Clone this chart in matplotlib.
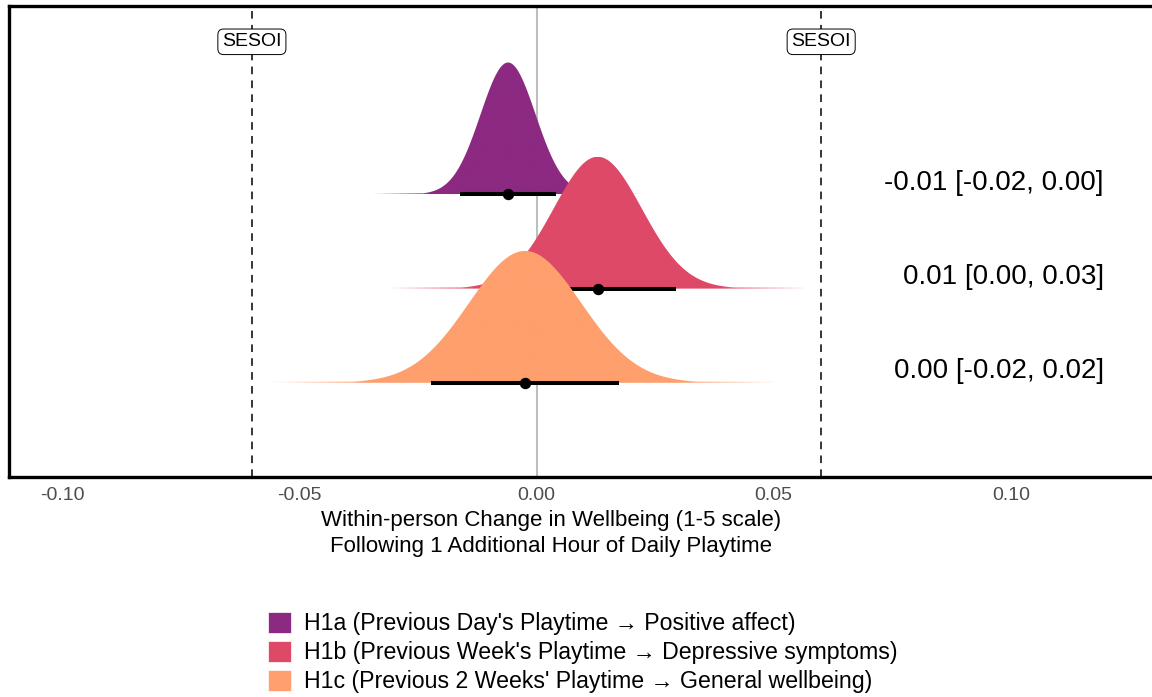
import numpy as np
import matplotlib
matplotlib.use("Agg")
import matplotlib.pyplot as plt
from matplotlib.patches import Patch

plt.rcParams['font.family'] = ['Liberation Sans', 'DejaVu Sans']
plt.rcParams['lines.scale_dashes'] = False

# estimates: posterior mean, 95% interval, spread and range of the slab
hypotheses = ["H1a", "H1b", "H1c"]
legend_labels = [
    "H1a (Previous Day's Playtime \u2192 Positive affect)",
    "H1b (Previous Week's Playtime \u2192 Depressive symptoms)",
    "H1c (Previous 2 Weeks' Playtime \u2192 General wellbeing)",
]
means = [-0.0060, 0.0129, -0.0024]
lowers = [-0.0162, -0.0036, -0.0222]
uppers = [0.0042, 0.0294, 0.0174]
sds = [0.0058, 0.0093, 0.0118]
slab_lo = [-0.0344, -0.0314, -0.0557]
slab_hi = [0.0225, 0.0563, 0.0500]
text_labels = ["-0.01 [-0.02, 0.00]", "0.01 [0.00, 0.03]", "0.00 [-0.02, 0.02]"]
rows = [3, 2, 1]
colors = ["#8C2981", "#DE4968", "#FE9F6D"]
sesoi = 0.06
xticks = [-0.10, -0.05, 0.00, 0.05, 0.10]

W, H = 1152, 697
fig = plt.figure(figsize=(W / 100, H / 100), dpi=100)
ax = fig.add_axes([9 / W, 220 / H, 1.0015, 471 / H])
ax.set_xlim(-0.1112, 0.1320)
ax.set_ylim(0, 5)

ax.axvline(0, color="#BEBEBE", lw=1.5, zorder=1)
for s in (-sesoi, sesoi):
    ax.axvline(s, color="black", lw=1.1, dashes=(5.5, 4.5), zorder=1)
    ax.text(s, 4.62, "SESOI", ha="center", va="center", fontsize=14, zorder=10,
            bbox=dict(boxstyle="round,pad=0.22,rounding_size=0.3", fc="white", ec="black", lw=0.7))

peak = 1.4
for i in range(len(hypotheses)):
    m = means[i]
    sd = sds[i]
    x = np.linspace(slab_lo[i], slab_hi[i], 800)
    dens = np.exp(-0.5 * ((x - m) / sd) ** 2)
    # keep the thin tails at least a hairline tall, like the reference
    top = np.maximum(peak * dens, 0.012)
    base = rows[i]
    poly = ax.fill_between(x, base, base + top, color=colors[i], lw=0, alpha=0, zorder=2 + 2 * i)
    # slab with tails fading out
    z = np.abs(x - m) / sd
    zmax = max(abs(slab_lo[i] - m), abs(slab_hi[i] - m)) / sd
    alpha = np.clip(1 - (z - 2.8) / (zmax - 2.8), 0.05, 1)
    rgba = np.zeros((1, len(x), 4))
    rgba[..., :3] = matplotlib.colors.to_rgb(colors[i])
    rgba[..., 3] = alpha
    im = ax.imshow(rgba, extent=(x[0], x[-1], base, base + peak), aspect="auto",
                   interpolation="bilinear", zorder=2 + 2 * i)
    im.set_clip_path(poly.get_paths()[0], transform=ax.transData)
    ax.plot([lowers[i], uppers[i]], [base, base], color="black", lw=2.9,
            solid_capstyle="butt", zorder=3 + 2 * i)
    ax.plot(m, base, "o", color="black", ms=7.2, zorder=3 + 2 * i)
    ax.text(0.1196, base + 0.12, text_labels[i], ha="right", va="center", fontsize=20)

ax.set_xlim(-0.1112, 0.1320)
ax.set_ylim(0, 5)
ax.set_yticks([])
ax.set_xticks(xticks)
ax.set_xticklabels(["%.2f" % t for t in xticks])
ax.tick_params(axis="x", length=0, pad=7, labelsize=14, labelcolor="#4D4D4D")
for sp in ax.spines.values():
    sp.set_linewidth(2.4)

fig.text(551 / W, 1 - 510 / H,
         "Within-person Change in Wellbeing (1-5 scale)\nFollowing 1 Additional Hour of Daily Playtime",
         ha="center", va="top", fontsize=16, linespacing=1.3)

handles = [Patch(facecolor=c, edgecolor="white", lw=0.5) for c in colors]
fig.legend(handles, legend_labels, loc="upper left", bbox_to_anchor=(268 / W, 1 - 612 / H),
           frameon=False, fontsize=16.7, handlelength=1.0, handleheight=1.0,
           labelspacing=0.24, handletextpad=0.55, borderaxespad=0, borderpad=0)

fig.savefig("out.png", dpi=100)
